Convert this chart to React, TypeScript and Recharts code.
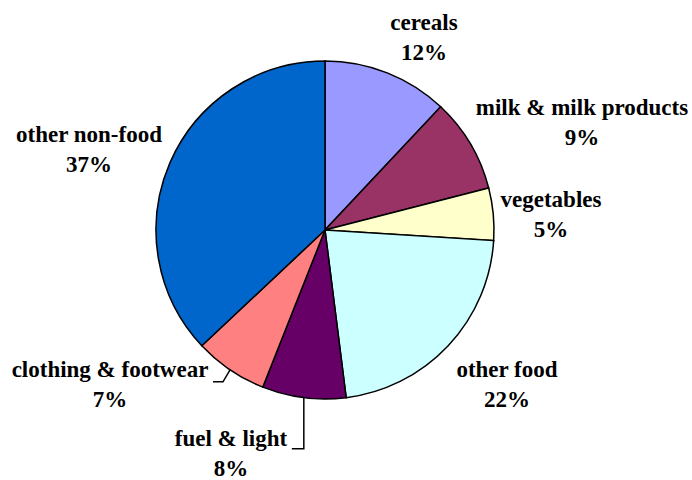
import { PieChart, Pie, Cell } from 'recharts';

const CATEGORIES = ['cereals', 'milk & milk products', 'vegetables', 'other food', 'fuel & light', 'clothing & footwear', 'other non-food'];
const SHARES = [12, 9, 5, 22, 8, 7, 37];
const COLORS = ['#9999FF', '#993366', '#FFFFCC', '#CCFFFF', '#660066', '#FF8080', '#0066CC'];

// label placement relative to the pie centre (first-line baseline)
const LABEL_OFFSETS: [number, number][] = [
    [99, -200], [257, -115], [226, -23], [182, 147], [-94, 216], [-215, 147], [-236, -88],
];

const RADIAN = Math.PI / 180;

const data = CATEGORIES.map((name, i) => ({ name, value: SHARES[i] }));

const renderLabel = (props: any) => {
    const { cx, cy, midAngle, outerRadius, index, value, name } = props;
    const [dx, dy] = LABEL_OFFSETS[index];
    const x = cx + dx;
    const y = cy + dy;
    const ex = cx + outerRadius * Math.cos(-midAngle * RADIAN);
    const ey = cy + outerRadius * Math.sin(-midAngle * RADIAN);
    let leader = null;
    if (name === 'clothing & footwear') {
        leader = <polyline points={`${ex},${ey} ${ex - 7},${ey + 12} ${ex - 17},${ey + 12}`} fill="none" stroke="#000" strokeWidth={1.5} />;
    } else if (name === 'fuel & light') {
        leader = <polyline points={`${ex},${ey} ${ex},${ey + 51} ${ex - 12},${ey + 51}`} fill="none" stroke="#000" strokeWidth={1.5} />;
    }
    return (
        <g>
            {leader}
            <text x={x} y={y} textAnchor="middle" fill="#000" fontFamily="Liberation Serif" fontWeight="bold" fontSize={23}>
                <tspan x={x} y={y}>{name}</tspan>
                <tspan x={x} y={y + 30}>{value}%</tspan>
            </text>
        </g>
    );
};

export default function App() {
    return (
        <div style={{ position: 'absolute', left: 0, top: 0, width: 692, height: 480, background: '#fff' }}>
            <PieChart width={692} height={480} margin={{ top: 0, right: 0, bottom: 0, left: 0 }}>
                <Pie
                    data={data}
                    dataKey="value"
                    nameKey="name"
                    cx={325}
                    cy={230}
                    outerRadius={169}
                    startAngle={90}
                    endAngle={-270}
                    stroke="#000"
                    strokeWidth={1.5}
                    label={renderLabel}
                    labelLine={false}
                    isAnimationActive={false}
                >
                    {data.map((d, i) => (
                        <Cell key={d.name} fill={COLORS[i]} />
                    ))}
                </Pie>
            </PieChart>
        </div>
    );
}
